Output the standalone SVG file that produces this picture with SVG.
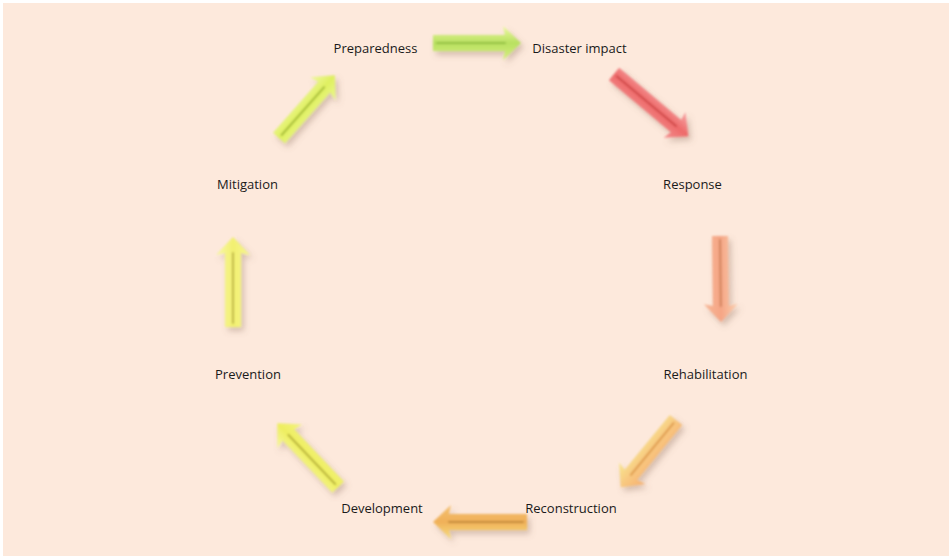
<svg xmlns="http://www.w3.org/2000/svg" width="949" height="556" viewBox="0 0 949 556">
<defs>
<style>
.lbl{font-family:"Open Sans","Noto Sans","Liberation Sans",sans-serif;font-size:13px;fill:#1a1a1a;text-anchor:middle}
.ctr{fill:none;stroke-width:2;stroke-linecap:round;opacity:0.8}
</style>
<filter id="soft" x="-30%" y="-30%" width="160%" height="160%">
<feGaussianBlur in="SourceAlpha" stdDeviation="3" result="b"/>
<feOffset in="b" dx="3" dy="4" result="o"/>
<feFlood flood-color="#8a6a5a" flood-opacity="0.35"/>
<feComposite in2="o" operator="in" result="s"/>
<feGaussianBlur in="SourceGraphic" stdDeviation="0.9" result="g"/>
<feMerge><feMergeNode in="s"/><feMergeNode in="g"/></feMerge>
</filter>
<linearGradient id="g1" x1="0" y1="0" x2="0" y2="1"><stop offset="0" stop-color="#eefaa0"/><stop offset="0.5" stop-color="#b8e060"/><stop offset="1" stop-color="#d8f080"/></linearGradient>
<linearGradient id="g2" x1="0" y1="0" x2="0" y2="1"><stop offset="0" stop-color="#f8a8a8"/><stop offset="0.5" stop-color="#ee6a6a"/><stop offset="1" stop-color="#f49090"/></linearGradient>
<linearGradient id="g3" x1="0" y1="0" x2="0" y2="1"><stop offset="0" stop-color="#fcd0b0"/><stop offset="0.5" stop-color="#f5a585"/><stop offset="1" stop-color="#f8b898"/></linearGradient>
<linearGradient id="g4" x1="0" y1="0" x2="0" y2="1"><stop offset="0" stop-color="#f8b070"/><stop offset="0.5" stop-color="#f8c880"/><stop offset="1" stop-color="#f8e890"/></linearGradient>
<linearGradient id="g5" x1="0" y1="0" x2="0" y2="1"><stop offset="0" stop-color="#f8e080"/><stop offset="0.5" stop-color="#f0b058"/><stop offset="1" stop-color="#f4c070"/></linearGradient>
<linearGradient id="g6" x1="0" y1="0" x2="0" y2="1"><stop offset="0" stop-color="#f8f8a0"/><stop offset="0.5" stop-color="#eeee60"/><stop offset="1" stop-color="#f4f480"/></linearGradient>
<linearGradient id="g7" x1="0" y1="0" x2="0" y2="1"><stop offset="0" stop-color="#f8f8a8"/><stop offset="0.5" stop-color="#f2f070"/><stop offset="1" stop-color="#f6f690"/></linearGradient>
<linearGradient id="g8" x1="0" y1="0" x2="0" y2="1"><stop offset="0" stop-color="#f0f8a0"/><stop offset="0.5" stop-color="#dff060"/><stop offset="1" stop-color="#ecf890"/></linearGradient>
</defs>
<rect x="0" y="0" width="949" height="556" fill="#ffffff"/>
<rect x="3" y="3" width="946" height="553" fill="#fde9dc"/>

<g id="connectors">
<g id="arrow-preparedness-impact" filter="url(#soft)">
<g transform="translate(433,43) rotate(0)">
<path d="M0,-8 L72,-8 L70,-17 L88,0 L70,17 L72,8 L0,8 Z" fill="url(#g1)"/>
<path class="ctr" d="M4,0 L72,0" stroke="#88b838"/>
</g></g>
<g id="arrow-impact-response" filter="url(#soft)">
<g transform="translate(614,74) rotate(40)">
<path d="M0,-8 L81,-8 L79,-17 L97,0 L79,17 L81,8 L0,8 Z" fill="url(#g2)"/>
<path class="ctr" d="M4,0 L81,0" stroke="#c84040"/>
</g></g>
<g id="arrow-response-rehabilitation" filter="url(#soft)">
<g transform="translate(720,236) rotate(89.3)">
<path d="M0,-8 L70,-8 L68,-17 L86,0 L68,17 L70,8 L0,8 Z" fill="url(#g3)"/>
<path class="ctr" d="M4,0 L70,0" stroke="#c87a50"/>
</g></g>
<g id="arrow-rehabilitation-reconstruction" filter="url(#soft)">
<g transform="translate(676,420) rotate(129.4)">
<path d="M0,-8 L71,-8 L69,-17 L87,0 L69,17 L71,8 L0,8 Z" fill="url(#g4)"/>
<path class="ctr" d="M4,0 L71,0" stroke="#d89040"/>
</g></g>
<g id="arrow-reconstruction-development" filter="url(#soft)">
<g transform="translate(527,522) rotate(180)">
<path d="M0,-8 L78,-8 L76,-17 L94,0 L76,17 L78,8 L0,8 Z" fill="url(#g5)"/>
<path class="ctr" d="M4,0 L78,0" stroke="#b88030"/>
</g></g>
<g id="arrow-development-prevention" filter="url(#soft)">
<g transform="translate(338,487) rotate(226.4)">
<path d="M0,-8 L72,-8 L70,-17 L88,0 L70,17 L72,8 L0,8 Z" fill="url(#g6)"/>
<path class="ctr" d="M4,0 L72,0" stroke="#a8a030"/>
</g></g>
<g id="arrow-prevention-mitigation" filter="url(#soft)">
<g transform="translate(233,327) rotate(270)">
<path d="M0,-8 L74,-8 L72,-17 L90,0 L72,17 L74,8 L0,8 Z" fill="url(#g7)"/>
<path class="ctr" d="M4,0 L74,0" stroke="#b0a838"/>
</g></g>
<g id="arrow-mitigation-preparedness" filter="url(#soft)">
<g transform="translate(279,138) rotate(-48.4)">
<path d="M0,-8 L68,-8 L66,-17 L84,0 L66,17 L68,8 L0,8 Z" fill="url(#g8)"/>
<path class="ctr" d="M4,0 L68,0" stroke="#98b030"/>
</g></g>
</g>

<g id="node-preparedness"><text class="lbl" x="375.5" y="53">Preparedness</text></g>
<g id="node-disaster-impact"><text class="lbl" x="579.5" y="53">Disaster impact</text></g>
<g id="node-response"><text class="lbl" x="692.5" y="189">Response</text></g>
<g id="node-rehabilitation"><text class="lbl" x="705.5" y="379">Rehabilitation</text></g>
<g id="node-reconstruction"><text class="lbl" x="571" y="513">Reconstruction</text></g>
<g id="node-development"><text class="lbl" x="382" y="513">Development</text></g>
<g id="node-prevention"><text class="lbl" x="248" y="379">Prevention</text></g>
<g id="node-mitigation"><text class="lbl" x="247.5" y="189">Mitigation</text></g>
</svg>
